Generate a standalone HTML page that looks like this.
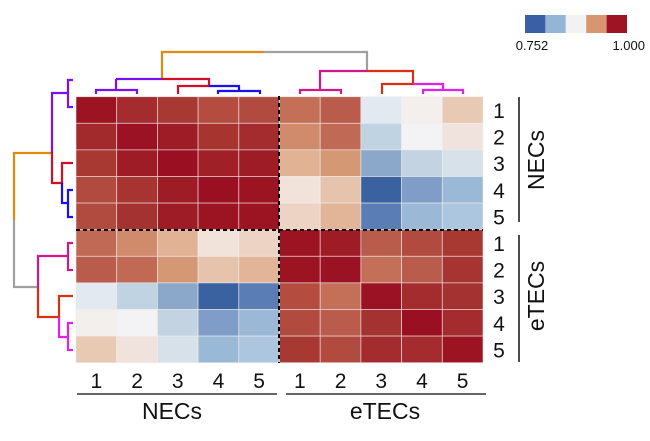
<!DOCTYPE html>
<html><head><meta charset="utf-8"><style>
html,body{margin:0;padding:0;background:#fff;width:650px;height:441px;overflow:hidden}
svg{display:block}
text{font-family:"Liberation Sans",Arial,sans-serif;fill:#111}
</style></head><body>
<svg width="650" height="441" viewBox="0 0 650 441" xmlns="http://www.w3.org/2000/svg">
<g id="cells" stroke="#f2eeee" stroke-width="0.8" stroke-opacity="0.7"></g>
<line x1="279" y1="96" x2="279" y2="363" stroke="#000" stroke-width="2" stroke-dasharray="4,3"/>
<line x1="76" y1="230" x2="483" y2="230" stroke="#000" stroke-width="2" stroke-dasharray="4,3"/>
<g fill="none" stroke-width="2.2">
<polyline points="162,79 162,52 264,52" stroke="#e08a10"/>
<polyline points="264,52 367,52 367,71" stroke="#a0a0a0"/>
<polyline points="116,79 162,79" stroke="#7a10f0"/>
<polyline points="96,94 96,90 137,90 137,94" stroke="#7a10f0"/>
<polyline points="116,79 116,90" stroke="#7a10f0"/>
<polyline points="162,79 209,79 209,86 178,86 178,94" stroke="#d0102a"/>
<polyline points="209,86 239,86 239,91" stroke="#1a10f0"/>
<polyline points="218,94 218,91 260,91 260,94" stroke="#1a10f0"/>
<polyline points="367,71 320,71 320,90" stroke="#d0188a"/>
<polyline points="300,94 300,90 341,90 341,94" stroke="#d0188a"/>
<polyline points="367,71 413,71 413,84 382,84 382,94" stroke="#d83010"/>
<polyline points="413,84 443,84 443,90" stroke="#e020f0"/>
<polyline points="423,94 423,90 463,90 463,94" stroke="#e020f0"/>
<polyline points="14,220 14,153 52,153" stroke="#e08a10"/>
<polyline points="14,220 14,287 38,287" stroke="#a0a0a0"/>
<polyline points="52,153 52,93 68,93" stroke="#7a10f0"/>
<polyline points="73,80 68,80 68,107 73,107" stroke="#7a10f0"/>
<polyline points="52,153 52,183 62,183 62,163 73,163" stroke="#d0102a"/>
<polyline points="62,183 62,203 68,203" stroke="#1a10f0"/>
<polyline points="73,190 68,190 68,217 73,217" stroke="#1a10f0"/>
<polyline points="38,287 38,256 68,256" stroke="#d0188a"/>
<polyline points="73,243 68,243 68,270 73,270" stroke="#d0188a"/>
<polyline points="38,287 38,317 59,317 59,296 73,296" stroke="#d83010"/>
<polyline points="59,317 59,337 68,337" stroke="#e020f0"/>
<polyline points="73,323 68,323 68,350 73,350" stroke="#e020f0"/>
</g>
<rect x="525" y="15" width="20.4" height="18" fill="#3a5fa4"/>
<rect x="545.4" y="15" width="20.4" height="18" fill="#95b5d6"/>
<rect x="565.8" y="15" width="20.4" height="18" fill="#f2f2f4"/>
<rect x="586.2" y="15" width="20.4" height="18" fill="#d99470"/>
<rect x="606.6" y="15" width="20.4" height="18" fill="#9e1424"/>
<text x="532" y="50" font-size="13" text-anchor="middle">0.752</text>
<text x="645" y="50" font-size="13" text-anchor="end">1.000</text>
<g font-size="21" text-anchor="middle" id="rl"></g>
<line x1="519" y1="97" x2="519" y2="222" stroke="#111" stroke-width="1.5"/>
<line x1="519" y1="235" x2="519" y2="362" stroke="#111" stroke-width="1.5"/>
<text font-size="23" text-anchor="middle" transform="translate(544,160) rotate(-90)">NECs</text>
<text font-size="23" text-anchor="middle" transform="translate(544,296) rotate(-90)">eTECs</text>
<g font-size="21" text-anchor="middle" id="bl"></g>
<line x1="77" y1="394" x2="277" y2="394" stroke="#333" stroke-width="1.5"/>
<line x1="286" y1="394" x2="486" y2="394" stroke="#333" stroke-width="1.5"/>
<text x="172" y="419" font-size="23" text-anchor="middle">NECs</text>
<text x="385" y="419" font-size="23" text-anchor="middle">eTECs</text>
</svg>
<script>
var M=[
["#9c1422","#a52c2e","#a83832","#b44d40","#b24b3f","#c47058","#b95c4b","#e2e9f0","#f3efec","#e8c9b3"],
["#a22a2c","#9a1224","#9e1c26","#a83430","#a52c2e","#d08a6c","#c06a55","#c0d3e2","#f3f3f5","#f0e3dd"],
["#a83832","#9e1c26","#9a1022","#a02028","#9e1c26","#e2b294","#d49874","#8ba8cb","#c3d3e2","#d6e1ea"],
["#b24b3f","#a83432","#9e1c26","#9a1022","#9c1422","#f1e3da","#e6c3ad","#3a62a0","#7f9dc6","#9ab9d6"],
["#b24b3f","#a43230","#9e1c26","#9c1422","#9c1422","#ecd3c3","#e2b599","#5b7db6","#9bb8d6","#abc6de"],
["#c06a55","#d08a6c","#e2b294","#f2e3da","#ecd3c3","#9c1422","#9e1c26","#b95c4b","#b24b3f","#a83832"],
["#b95c4b","#c06a55","#d49874","#e6c3ad","#e2b599","#9c1422","#9a1224","#c47058","#b95c4b","#a83432"],
["#e2e9f0","#c0d3e2","#8ba8cb","#3a62a0","#5b7db6","#b44d40","#c47058","#9a1224","#a52c2e","#a43230"],
["#f3efec","#f3f3f5","#c3d3e2","#7f9dc6","#9bb8d6","#b24b3f","#b95c4b","#a43230","#9a1022","#a52c2e"],
["#e8c9b3","#f0e3dd","#d6e1ea","#9ab9d6","#abc6de","#a83832","#b24b3f","#a52c2e","#a52c2e","#9c1422"]];
var ns="http://www.w3.org/2000/svg",g=document.getElementById("cells");
var x0=76,y0=96.7,cw=40.7,rh=26.6;
for(var r=0;r<10;r++)for(var c=0;c<10;c++){var e=document.createElementNS(ns,"rect");
e.setAttribute("x",x0+c*cw);e.setAttribute("y",y0+r*rh);e.setAttribute("width",cw);e.setAttribute("height",rh);e.setAttribute("fill",M[r][c]);g.appendChild(e);}
var rl=document.getElementById("rl"),bl=document.getElementById("bl");
for(var i=0;i<10;i++){var t=document.createElementNS(ns,"text");t.setAttribute("x",499);t.setAttribute("y",y0+i*rh+rh/2+8);t.textContent=(i%5)+1;rl.appendChild(t);
var u=document.createElementNS(ns,"text");u.setAttribute("x",x0+i*cw+cw/2);u.setAttribute("y",388);u.textContent=(i%5)+1;bl.appendChild(u);}
</script>
</body></html>
